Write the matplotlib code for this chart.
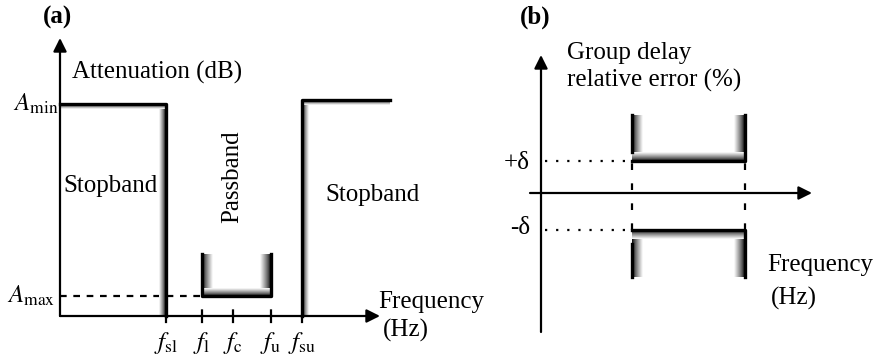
import matplotlib
matplotlib.use("Agg")
import matplotlib.pyplot as plt
import numpy as np
from matplotlib.colors import LinearSegmentedColormap

plt.rcParams['font.family'] = ['Liberation Serif', 'DejaVu Serif']
plt.rcParams['mathtext.fontset'] = 'stix'

# (a) attenuation mask, x measured from the vertical axis, y from the frequency axis
freq_names = [r'$f_{\mathrm{sl}}$', r'$f_{\mathrm{l}}$', r'$f_{\mathrm{c}}$', r'$f_{\mathrm{u}}$', r'$f_{\mathrm{su}}$']
freq_pos = [106, 142, 173, 211, 242]
a_min = 212
a_max = 20
pass_top = 62
stop_hi = 216
stop_end = 330

# (b) group delay tolerance mask
gd_edges = [91, 204]
gd_delta = [32, -37]
gd_top = 78
gd_bottom = -84

fade = LinearSegmentedColormap.from_list('fade', ['black', '#808080', 'white'])

fig = plt.figure(figsize=(8.77, 3.56), dpi=100)


def panel(ox, oy):
    # axes covering the whole figure, data origin at pixel (ox, oy) from top-left
    ax = fig.add_axes([0, 0, 1, 1])
    ax.patch.set_alpha(0)
    ax.set_axis_off()
    lims = ((-ox, 877 - ox), (-(356 - oy), oy))
    return ax, lims


def shade(ax, x0, x1, y0, y1, dark):
    g = np.linspace(0, 1, 64) ** 0.8
    if dark in ('left', 'right'):
        g = g[None, :] if dark == 'left' else g[None, ::-1]
    else:
        g = g[:, None] if dark == 'bottom' else g[::-1, None]
    ax.imshow(g, cmap=fade, extent=(x0, x1, y0, y1), origin='lower',
              aspect='auto', interpolation='bilinear', zorder=2)


def arrow(ax, start, tip):
    ax.annotate('', xy=tip, xytext=start,
                arrowprops=dict(arrowstyle='-|>', lw=1.6, color='black',
                                mutation_scale=20, shrinkA=0, shrinkB=0))


fs = 18
lw_wall = 2.4

# ---------- (a) ----------
ax, (xl, yl) = panel(60, 316)
arrow(ax, (0, 0), (320, 0))
arrow(ax, (0, 0), (0, 278))
f_sl, f_l, f_c, f_u, f_su = freq_pos

# lower stopband
shade(ax, f_sl - 7, f_sl, 0, a_min - 2, 'right')
shade(ax, 0, f_sl, a_min - 5, a_min, 'top')
ax.plot([0, f_sl, f_sl], [a_min, a_min, 0], color='black', lw=lw_wall, zorder=3)

# upper stopband
shade(ax, f_su, f_su + 7, 0, stop_hi - 2, 'left')
shade(ax, f_su, stop_end, stop_hi - 5, stop_hi, 'top')
ax.plot([f_su, f_su, stop_end], [0, stop_hi, stop_hi], color='black', lw=lw_wall, zorder=3)

# passband
shade(ax, f_l, f_l + 11, a_max, pass_top, 'left')
shade(ax, f_u - 11, f_u, a_max, pass_top, 'right')
shade(ax, f_l, f_u, a_max, a_max + 8, 'bottom')
ax.plot([f_l, f_l, f_u, f_u], [pass_top, a_max, a_max, pass_top], color='black', lw=lw_wall, zorder=3)

ax.plot([0, f_l], [a_max, a_max], color='black', lw=1.6, ls=(0, (3, 3)), zorder=1)
for x in (f_l, f_c, f_u):
    ax.plot([x, x], [0, a_max - 4], color='black', lw=1.6, ls=(0, (3, 5)), zorder=1)
for x, name in zip(freq_pos, freq_names):
    ax.plot([x, x], [0, -6], color='black', lw=1.6)
    ax.text(x, -27, name, fontsize=fs, ha='center', va='center')

ax.text(-2, a_min, r'$A_{\mathrm{min}}$', fontsize=fs, ha='right', va='center')
ax.text(-5, a_max, r'$A_{\mathrm{max}}$', fontsize=fs, ha='right', va='center')
ax.text(12, 244, 'Attenuation (dB)', fontsize=fs, ha='left', va='center')
ax.text(3, 130, 'Stopband', fontsize=fs, ha='left', va='center')
ax.text(172, 139, 'Passband', fontsize=fs, ha='center', va='center', rotation=90)
ax.text(265, 121, 'Stopband', fontsize=fs, ha='left', va='center')
ax.text(318, 14, 'Frequency', fontsize=fs, ha='left', va='center')
ax.text(323, -14, '(Hz)', fontsize=fs, ha='left', va='center')
ax.text(-2, 299, '(a)', fontsize=fs, fontweight='bold', ha='center', va='center')
ax.set_xlim(*xl)
ax.set_ylim(*yl)

# ---------- (b) ----------
ax, (xl, yl) = panel(541, 193)
arrow(ax, (-11, 0), (271, 0))
arrow(ax, (0, -139), (0, 138))
lo, hi = gd_edges
d_up, d_dn = gd_delta

shade(ax, lo, lo + 11, d_up + 8, gd_top, 'left')
shade(ax, hi - 11, hi, d_up + 8, gd_top, 'right')
shade(ax, lo, hi, d_up, d_up + 9, 'bottom')
ax.plot([lo, lo], [d_up + 9, gd_top], color='black', lw=lw_wall, zorder=3)
ax.plot([lo, hi, hi], [d_up, d_up, gd_top], color='black', lw=lw_wall, zorder=3)

shade(ax, lo, lo + 11, gd_bottom, d_dn - 8, 'left')
shade(ax, hi - 11, hi, gd_bottom, d_dn - 8, 'right')
shade(ax, lo, hi, d_dn - 9, d_dn, 'top')
ax.plot([lo, lo], [d_dn - 14, gd_bottom], color='black', lw=lw_wall, zorder=3)
ax.plot([lo, hi, hi], [d_dn, d_dn, gd_bottom], color='black', lw=lw_wall, zorder=3)

for y in gd_delta:
    ax.plot([4, lo - 4], [y, y], color='black', lw=1.6, ls=(0, (1, 4)), zorder=1)
for x in gd_edges:
    ax.plot([x, x], [d_dn, d_up], color='black', lw=1.6, ls=(0, (3, 6)), zorder=1)

ax.text(-11, d_up - 2, r'+δ', fontsize=fs, ha='right', va='center')
ax.text(-11, d_dn + 2, r'-δ', fontsize=fs, ha='right', va='center')
ax.text(26, 140, 'Group delay', fontsize=fs, ha='left', va='center')
ax.text(26, 113, 'relative error (%)', fontsize=fs, ha='left', va='center')
ax.text(226, -72, 'Frequency', fontsize=fs, ha='left', va='center')
ax.text(230, -105, '(Hz)', fontsize=fs, ha='left', va='center')
ax.text(-6, 176, '(b)', fontsize=fs, fontweight='bold', ha='center', va='center')
ax.set_xlim(*xl)
ax.set_ylim(*yl)

fig.savefig('out.png', dpi=100)
